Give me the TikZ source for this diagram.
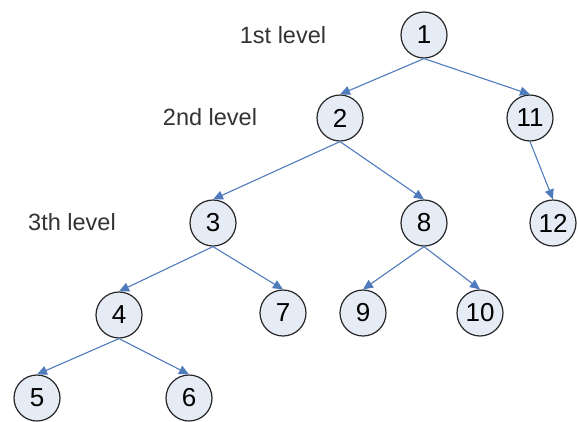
\documentclass[tikz,border=0pt]{standalone}
\usepackage{fontspec}
\setmainfont{Liberation Sans}
\usetikzlibrary{arrows.meta}
\definecolor{nodefill}{HTML}{E6ECF6}
\definecolor{edgeblue}{HTML}{4F7BBD}
\tikzset{
  tnode/.style={circle,draw=black!85,line width=1.2pt,fill=nodefill,minimum size=46pt,inner sep=0pt,font=\fontsize{26}{28}\selectfont},
  lvl/.style={font=\fontsize{23.5}{25}\selectfont,text=black!80},
  edge/.style={draw=edgeblue,line width=1.1pt,-{Triangle[length=10pt,width=9pt]}}
}
\begin{document}
\begin{tikzpicture}[x=1pt,y=-1pt]
\path[use as bounding box] (0,0) rectangle (578,421);
\node[tnode] (n1) at (424,35) {1};
\node[tnode] (n2) at (340,118) {2};
\node[tnode] (n11) at (530,118) {11};
\node[tnode] (n3) at (213,223) {3};
\node[tnode] (n8) at (424,223) {8};
\node[tnode] (n12) at (553,223) {12};
\node[tnode] (n4) at (119,315) {4};
\node[tnode] (n7) at (283,313) {7};
\node[tnode] (n9) at (363,313) {9};
\node[tnode] (n10) at (480,313) {10};
\node[tnode] (n5) at (37,398) {5};
\node[tnode] (n6) at (189,398) {6};
\node[lvl] (l1) at (283,35) {1st level};
\node[lvl] (l2) at (210,117) {2nd level};
\node[lvl] (l3) at (72,222) {3th level};
\draw[edge] (n1.south) -- (n2.north);
\draw[edge] (n1.south) -- (n11.north);
\draw[edge] (n2.south) -- (n3.north);
\draw[edge] (n2.south) -- (n8.north);
\draw[edge] (n11.south) -- (n12.north);
\draw[edge] (n3.south) -- (n4.north);
\draw[edge] (n3.south) -- (n7.north);
\draw[edge] (n8.south) -- (n9.north);
\draw[edge] (n8.south) -- (n10.north);
\draw[edge] (n4.south) -- (n5.north);
\draw[edge] (n4.south) -- (n6.north);
\end{tikzpicture}
\end{document}
